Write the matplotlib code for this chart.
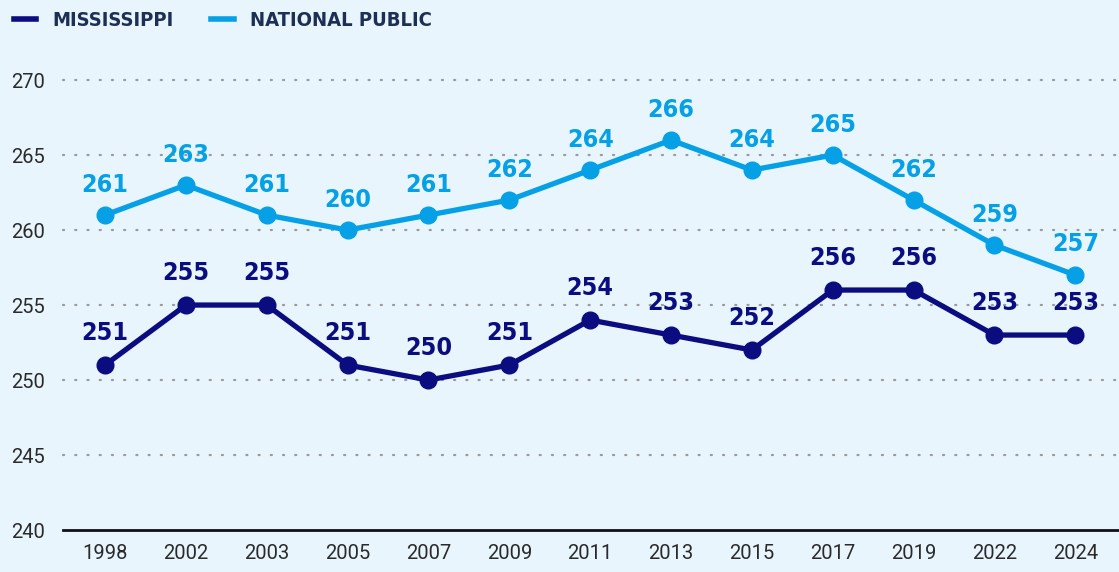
import matplotlib.pyplot as plt
from matplotlib.lines import Line2D

years = ["1998", "2002", "2003", "2005", "2007", "2009", "2011", "2013", "2015", "2017", "2019", "2022", "2024"]
mississippi = [251, 255, 255, 251, 250, 251, 254, 253, 252, 256, 256, 253, 253]
national = [261, 263, 261, 260, 261, 262, 264, 266, 264, 265, 262, 259, 257]
yticks = [240, 245, 250, 255, 260, 265, 270]

navy = "#0a0c80"
light = "#05a0e6"
bg = "#e8f5fd"
cond = ["DejaVu Sans"]
plain = ["Roboto", "DejaVu Sans"]

fig = plt.figure(figsize=(11.19, 5.72), dpi=100)
fig.patch.set_facecolor(bg)
ax = fig.add_axes([0.0563, 0.0734, 0.9437, 0.7866])
ax.set_facecolor(bg)

x = list(range(len(years)))
for y in yticks[1:]:
    ax.axhline(y, color="#9a9a9a", lw=1.6, ls=(0, (0.5, 5)), dash_capstyle="round", zorder=1, clip_on=False)
ax.axhline(240, color="#111111", lw=2, zorder=2, clip_on=False)

ax.plot(x, national, color=light, lw=3.8, marker="o", ms=12, zorder=3, clip_on=False)
ax.plot(x, mississippi, color=navy, lw=3.8, marker="o", ms=12, zorder=3, clip_on=False)

for i in x:
    ax.annotate(str(national[i]), (i, national[i]), xytext=(0, 22), textcoords="offset points",
                ha="center", va="center", color=light, fontsize=18, fontweight="bold",
                family=cond, fontstretch="condensed")
    ax.annotate(str(mississippi[i]), (i, mississippi[i]), xytext=(0, 23), textcoords="offset points",
                ha="center", va="center", color=navy, fontsize=18, fontweight="bold",
                family=cond, fontstretch="condensed")

ax.set_xlim(-0.52, 12.54)
ax.set_ylim(240, 270)
ax.set_xticks(x)
ax.set_xticklabels(years, family=plain, fontsize=14.5, color="#2a2a2a")
ax.set_yticks(yticks)
ax.set_yticklabels([str(v) for v in yticks], family=plain, fontsize=14.5, color="#2a2a2a", ha="left")
ax.tick_params(axis="y", length=0, pad=37)
ax.tick_params(axis="x", length=0, pad=10)
for s in ax.spines.values():
    s.set_visible(False)

handles = [Line2D([], [], color=navy, lw=4), Line2D([], [], color=light, lw=4)]
leg = fig.legend(handles, ["MISSISSIPPI", "NATIONAL PUBLIC"], loc="upper left", bbox_to_anchor=(-0.004, 1.012),
                 ncol=2, frameon=False, handlelength=1.1, handletextpad=0.8, columnspacing=1.9,
                 prop={"family": cond, "weight": "bold", "size": 14.5, "stretch": "condensed"})
for t in leg.get_texts():
    t.set_color("#1e2f55")

fig.savefig("out.png", dpi=100, facecolor=bg)
